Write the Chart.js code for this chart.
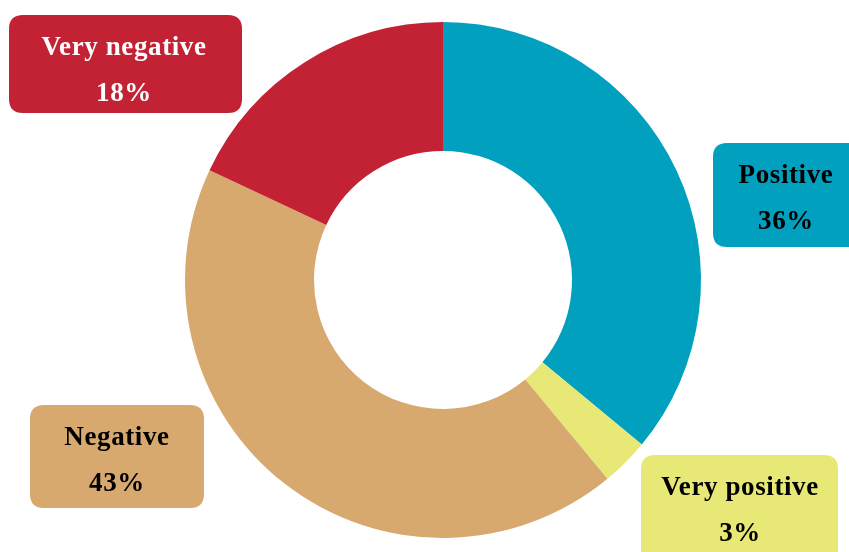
<!DOCTYPE html>
<html>
<head>
<meta charset="utf-8">
<script src="https://cdn.jsdelivr.net/npm/chart.js@4/dist/chart.umd.min.js"></script>
<style>
  html, body { margin: 0; padding: 0; background: #ffffff; }
  #wrap { width: 849px; height: 552px; position: relative; }
</style>
</head>
<body>
<div id="wrap"><canvas id="sentimentChart" width="849" height="552"></canvas></div>
<script>
// sentiment shares, clockwise from 12 o'clock
const categories = ['Positive', 'Very positive', 'Negative', 'Very negative'];
const shares = [36, 3, 43, 18];
const sliceColors = ['#01a0be', '#e8e876', '#d7a96e', '#c22234'];
const textColors = ['#000000', '#000000', '#000000', '#ffffff'];

// callout boxes: left, top, width, height, text centre x
const calloutBoxes = [
    { x: 713, y: 143, w: 150, h: 104, tx: 786 },
    { x: 641, y: 455, w: 197, h: 110, tx: 740 },
    { x: 30, y: 405, w: 174, h: 103, tx: 117 },
    { x: 9, y: 15, w: 233, h: 98, tx: 124 }
];

function roundRect(ctx, x, y, w, h, r) {
    ctx.beginPath();
    ctx.moveTo(x + r, y);
    ctx.lineTo(x + w - r, y);
    ctx.quadraticCurveTo(x + w, y, x + w, y + r);
    ctx.lineTo(x + w, y + h - r);
    ctx.quadraticCurveTo(x + w, y + h, x + w - r, y + h);
    ctx.lineTo(x + r, y + h);
    ctx.quadraticCurveTo(x, y + h, x, y + h - r);
    ctx.lineTo(x, y + r);
    ctx.quadraticCurveTo(x, y, x + r, y);
    ctx.closePath();
}

const calloutPlugin = {
    id: 'callouts',
    afterDraw(chart) {
        const ctx = chart.ctx;
        ctx.save();
        categories.forEach((name, i) => {
            const b = calloutBoxes[i];
            ctx.fillStyle = sliceColors[i];
            roundRect(ctx, b.x, b.y, b.w, b.h, 14);
            ctx.fill();

            ctx.fillStyle = textColors[i];
            ctx.font = 'bold 27px "Liberation Serif", "Times New Roman", serif';
            ctx.letterSpacing = '0.6px';
            ctx.textAlign = 'center';
            ctx.textBaseline = 'middle';
            ctx.fillText(name, b.tx, b.y + 33);
            ctx.fillText(shares[i] + '%', b.tx, b.y + 79);
        });
        ctx.restore();
    }
};

new Chart(document.getElementById('sentimentChart'), {
    type: 'doughnut',
    data: {
        labels: categories,
        datasets: [{
            data: shares,
            backgroundColor: sliceColors,
            borderWidth: 0
        }]
    },
    options: {
        responsive: false,
        animation: false,
        cutout: '50%',
        layout: {
            padding: { left: 185, right: 148, top: 22, bottom: 14 }
        },
        plugins: {
            legend: { display: false },
            tooltip: { enabled: false }
        }
    },
    plugins: [calloutPlugin]
});
</script>
</body>
</html>
